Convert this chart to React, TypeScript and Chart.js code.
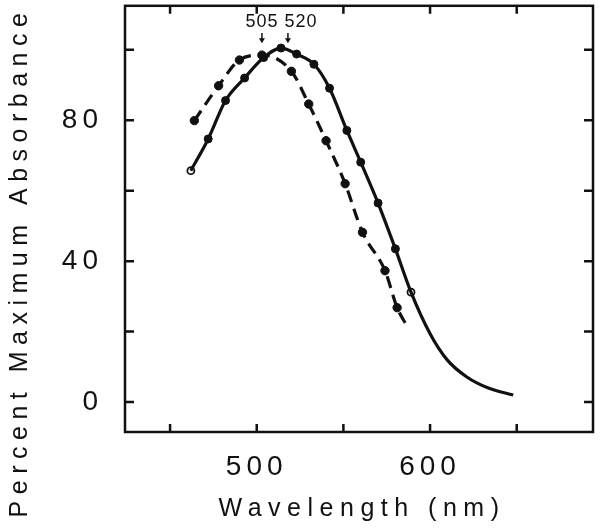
import React, { useEffect, useRef } from 'react';
import { Chart, registerables } from 'chart.js';

Chart.register(...registerables);

// Solid curve: measured points (first and last are open circles)
const solidWavelengths = [462, 472, 482, 493, 504, 514, 523, 533, 542, 552, 560, 570, 580, 589];
const solidAbsorbance = [65.7, 74.7, 85.6, 92.0, 97.8, 100.5, 98.8, 95.9, 89.1, 77.1, 68.1, 56.5, 43.5, 31.2];
// Solid curve continuation without markers
const solidTailWavelengths = [600, 610, 621, 634, 648];
const solidTailAbsorbance = [19.4, 11.9, 7.2, 3.9, 2.0];

// Dashed curve: measured points
const dashedWavelengths = [464, 478, 490, 503, 520, 530, 540, 551, 561, 574, 581];
const dashedAbsorbance = [79.9, 89.8, 97.1, 98.5, 93.9, 84.6, 74.2, 62.0, 48.2, 37.3, 26.8];
const dashedEndWavelength = [587];
const dashedEndAbsorbance = [21.3];

// Axis ticks
const xTickValues = [450, 500, 550, 600, 650];
const yTickValues = [0, 20, 40, 60, 80, 100];
const xTickLabels = [500, 600];
const yTickLabels = [0, 40, 80];
const xAxisTitle = 'Wavelength (nm)';
const yAxisTitle = 'Percent Maximum Absorbance';

// Peak annotations
const peakLabels = ['505', '520'];
const peakArrowWavelengths = [503, 518];
const peakLabelWavelengths = [503, 525.5];

const FONT = '"Liberation Sans", Arial, Helvetica, sans-serif';
const INK = '#111111';

export default function App() {
  const ref = useRef<HTMLCanvasElement>(null);

  useEffect(() => {
    if (!ref.current) return;
    const toXY = (xs: number[], ys: number[]) => xs.map((x, i) => ({ x, y: ys[i] }));
    const solidMarkers = toXY(solidWavelengths, solidAbsorbance);
    const solidCurve = [...solidMarkers, ...toXY(solidTailWavelengths, solidTailAbsorbance)];
    const dashedMarkers = toXY(dashedWavelengths, dashedAbsorbance);
    const dashedCurve = [...dashedMarkers, ...toXY(dashedEndWavelength, dashedEndAbsorbance)];
    const lastSolid = solidMarkers.length - 1;

    const zeroPad = (s: any) => {
      s.paddingTop = 0;
      s.paddingBottom = 0;
      s.paddingLeft = 0;
      s.paddingRight = 0;
    };

    const framePlugin = {
      id: 'frameAndTitles',
      beforeDraw(chart: any) {
        chart.ctx.letterSpacing = '5px';
      },
      afterDraw(chart: any) {
        const { ctx, chartArea: a, scales } = chart;
        const xs = scales.x;
        const ys = scales.y;
        ctx.save();
        ctx.letterSpacing = '0px';
        ctx.strokeStyle = INK;
        ctx.lineWidth = 2.5;
        ctx.strokeRect(a.left, a.top, a.right - a.left, a.bottom - a.top);
        ctx.beginPath();
        xs.ticks.forEach((t: any) => {
          const px = xs.getPixelForValue(t.value);
          ctx.moveTo(px, a.bottom);
          ctx.lineTo(px, a.bottom - 8);
          ctx.moveTo(px, a.top);
          ctx.lineTo(px, a.top + 8);
        });
        ys.ticks.forEach((t: any) => {
          const py = ys.getPixelForValue(t.value);
          ctx.moveTo(a.left, py);
          ctx.lineTo(a.left + 9, py);
          ctx.moveTo(a.right, py);
          ctx.lineTo(a.right - 9, py);
        });
        ctx.stroke();

        // peak arrows and labels
        ctx.fillStyle = INK;
        ctx.lineWidth = 1.5;
        const yTop = ys.getPixelForValue(104.8);
        const yTip = ys.getPixelForValue(101.9);
        peakArrowWavelengths.forEach((w) => {
          const px = xs.getPixelForValue(w);
          ctx.beginPath();
          ctx.moveTo(px, yTop);
          ctx.lineTo(px, yTip - 3);
          ctx.stroke();
          ctx.beginPath();
          ctx.moveTo(px - 3, yTip - 5);
          ctx.lineTo(px + 3, yTip - 5);
          ctx.lineTo(px, yTip);
          ctx.closePath();
          ctx.fill();
        });
        ctx.font = `18px ${FONT}`;
        ctx.letterSpacing = '1px';
        ctx.textAlign = 'center';
        ctx.textBaseline = 'middle';
        const yLab = ys.getPixelForValue(107.9);
        peakLabels.forEach((lab, i) => {
          ctx.fillText(lab, xs.getPixelForValue(peakLabelWavelengths[i]), yLab);
        });

        // axis titles
        ctx.font = `25px ${FONT}`;
        ctx.letterSpacing = '6.5px';
        ctx.fillText(xAxisTitle, (a.left + a.right) / 2 + 3, 509);
        ctx.save();
        ctx.translate(20, 265);
        ctx.rotate(-Math.PI / 2);
        ctx.fillText(yAxisTitle, 3, 0);
        ctx.restore();
        ctx.restore();
        ctx.letterSpacing = '0px';
      },
    };

    const chart = new Chart(ref.current, {
      type: 'scatter',
      data: {
        datasets: [
          {
            data: solidCurve,
            showLine: true,
            borderColor: INK,
            borderWidth: 3.2,
            pointRadius: 0,
            cubicInterpolationMode: 'monotone',
          } as any,
          {
            data: dashedCurve,
            showLine: true,
            borderColor: INK,
            borderWidth: 3.2,
            borderDash: [12, 7],
            pointRadius: 0,
            cubicInterpolationMode: 'monotone',
          } as any,
          {
            data: solidMarkers,
            showLine: false,
            pointRadius: solidMarkers.map((_, i) => (i === 0 || i === lastSolid ? 3.5 : 4)),
            pointBackgroundColor: solidMarkers.map((_, i) => (i === 0 || i === lastSolid ? '#ffffff' : INK)),
            pointBorderColor: INK,
            pointBorderWidth: solidMarkers.map((_, i) => (i === 0 || i === lastSolid ? 1.8 : 1)),
          },
          {
            data: dashedMarkers,
            showLine: false,
            pointRadius: 4.2,
            pointBackgroundColor: INK,
            pointBorderColor: INK,
          },
        ],
      },
      options: {
        responsive: true,
        maintainAspectRatio: false,
        animation: false,
        layout: { padding: { top: 5, right: 7, left: 0, bottom: 0 } },
        plugins: { legend: { display: false }, tooltip: { enabled: false } },
        scales: {
          x: {
            type: 'linear',
            min: 424,
            max: 694,
            grid: { display: false, drawTicks: false },
            border: { display: false },
            afterBuildTicks: (s: any) => {
              s.ticks = xTickValues.map((value) => ({ value }));
            },
            ticks: {
              autoSkip: false,
              maxRotation: 0,
              padding: 18,
              color: INK,
              font: { family: FONT, size: 28 },
              callback: (v: any) => (xTickLabels.includes(Number(v)) ? String(v) : ''),
            },
            afterFit: (s: any) => {
              s.height = 100;
              zeroPad(s);
            },
          },
          y: {
            type: 'linear',
            min: -8.5,
            max: 112.5,
            grid: { display: false, drawTicks: false },
            border: { display: false },
            afterBuildTicks: (s: any) => {
              s.ticks = yTickValues.map((value) => ({ value }));
            },
            ticks: {
              autoSkip: false,
              padding: 22,
              color: INK,
              font: { family: FONT, size: 28 },
              callback: (v: any) => (yTickLabels.includes(Number(v)) ? String(v) : ''),
            },
            afterFit: (s: any) => {
              s.width = 125;
              zeroPad(s);
            },
          },
        },
      } as any,
      plugins: [framePlugin],
    });
    return () => chart.destroy();
  }, []);

  return (
    <div style={{ position: 'absolute', left: 0, top: 0, width: 600, height: 532, background: '#ffffff' }}>
      <canvas ref={ref} />
    </div>
  );
}
